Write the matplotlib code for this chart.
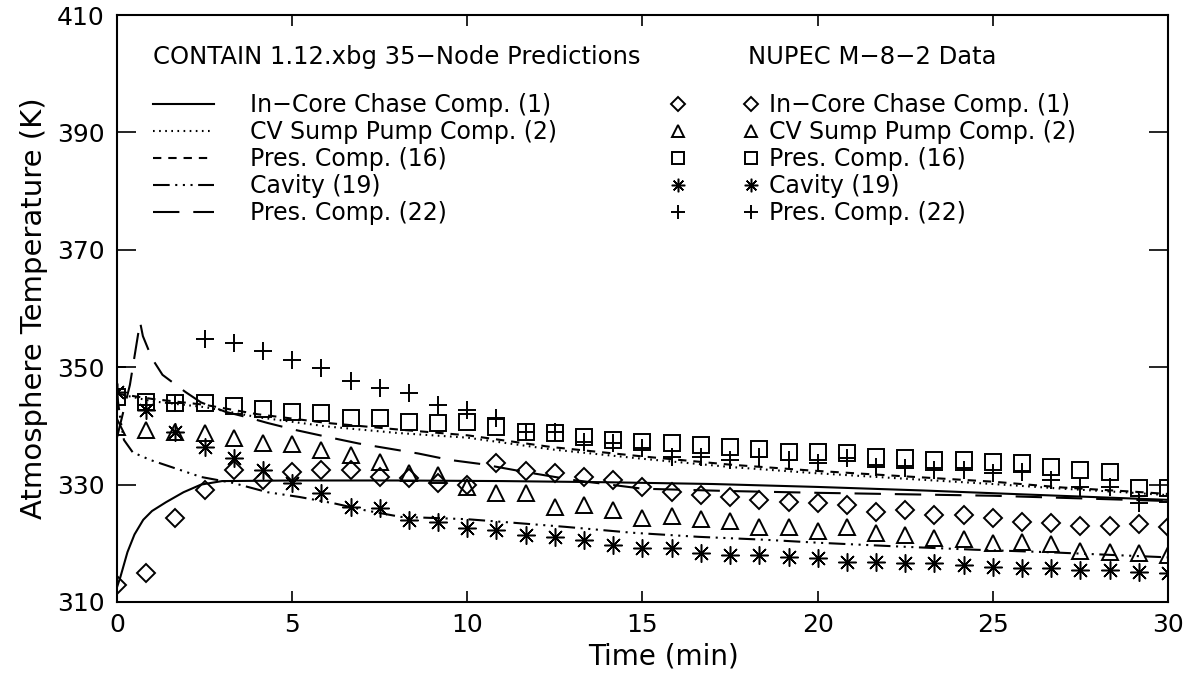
import matplotlib
matplotlib.use("Agg")
import matplotlib.pyplot as plt

plt.rcParams['font.family'] = ['DejaVu Sans']
plt.rcParams['lines.scale_dashes'] = False

# NUPEC M-8-2 data, sampled every 50 s
t_data = [0, 0.83, 1.67, 2.5, 3.33, 4.17, 5.0, 5.83, 6.67, 7.5, 8.33, 9.17, 10.0,
          10.83, 11.67, 12.5, 13.33, 14.17, 15.0, 15.83, 16.67, 17.5, 18.33, 19.17,
          20.0, 20.83, 21.67, 22.5, 23.33, 24.17, 25.0, 25.83, 26.67, 27.5, 28.33,
          29.17, 30.0]
d_incore = [312.9, 314.9, 324.3, 329.1, 332.5, 330.8, 332.1, 332.5, 332.5, 331.3,
            331.1, 330.3, 330.0, 333.7, 332.3, 332.0, 331.3, 330.8, 329.6, 328.7,
            328.2, 327.9, 327.4, 327.0, 326.9, 326.5, 325.3, 325.7, 324.8, 324.8,
            324.3, 323.6, 323.5, 323.0, 323.0, 323.3, 322.8]
d_sump = [339.8, 339.3, 339.0, 338.8, 337.9, 337.1, 336.9, 335.9, 335.0, 333.9,
          332.0, 331.6, 329.6, 328.6, 328.6, 326.2, 326.5, 325.7, 324.3, 324.7,
          324.1, 323.8, 322.8, 322.8, 322.1, 322.8, 321.8, 321.4, 320.9, 320.7,
          320.0, 320.2, 319.9, 318.7, 318.5, 318.3, 318.0]
d_pres16 = [345.0, 344.1, 343.9, 343.9, 343.4, 342.9, 342.4, 342.2, 341.3, 341.3,
            340.7, 340.5, 340.7, 339.8, 339.0, 338.8, 338.1, 337.6, 337.3, 337.1,
            336.7, 336.4, 336.0, 335.6, 335.6, 335.4, 334.7, 334.5, 334.2, 334.2,
            333.9, 333.7, 333.0, 332.5, 332.1, 329.4, 329.4]
d_cavity = [345.8, 342.7, 339.0, 336.4, 334.5, 332.5, 330.3, 328.6, 326.2, 326.0,
            324.0, 323.6, 322.6, 322.3, 321.4, 321.1, 320.6, 319.7, 319.2, 319.2,
            318.3, 318.0, 318.0, 317.7, 317.5, 316.8, 316.8, 316.6, 316.6, 316.3,
            316.0, 315.8, 315.8, 315.5, 315.5, 315.1, 314.9]
d_pres22 = [350.0, 343.5, 343.9, 354.8, 354.1, 352.8, 351.2, 349.8, 347.6, 346.4,
            345.6, 343.6, 342.7, 341.3, 339.0, 338.9, 337.3, 337.1, 336.2, 334.7,
            334.7, 334.2, 334.7, 334.2, 333.7, 334.5, 333.0, 332.8, 332.5, 332.5,
            332.0, 332.1, 330.8, 329.6, 329.6, 326.9, 327.0]

# CONTAIN 1.12.xbg predictions
t_p1 = [0, 0.1, 0.3, 0.5, 0.75, 1.0, 1.4, 1.9, 2.4, 3.0, 5, 8, 11, 14, 17, 20, 23, 26, 30]
p_incore = [312.5, 314.3, 318.5, 321.5, 324.0, 325.5, 327.0, 328.7, 330.0, 330.6,
            330.7, 330.7, 330.6, 330.4, 330.1, 329.6, 329.0, 328.3, 327.4]
t_p2 = [0, 1, 2.5, 4, 6, 8, 10, 12.4, 15, 17.5, 19.8, 22.5, 25, 27, 29, 30]
p_sump = [345.5, 344.2, 343.2, 341.5, 339.9, 338.8, 338.0, 336.0, 334.4, 333.0,
          332.0, 331.0, 330.1, 329.3, 328.6, 328.2]
p_pres16 = [345.5, 344.6, 343.6, 342.0, 340.5, 339.4, 338.4, 336.4, 334.8, 333.4,
            332.4, 331.4, 330.5, 329.5, 328.8, 328.4]
t_p19 = [0, 0.1, 0.2, 0.45, 0.95, 1.8, 2.4, 3.3, 4.3, 5.2, 6.2, 7.1, 8.1, 9.1, 10,
         11.1, 12.8, 14.7, 16.6, 18.5, 20, 22.5, 24.5, 26.5, 30]
p_cavity = [345.5, 341.0, 337.6, 335.5, 334.2, 332.5, 331.3, 330.3, 328.7, 327.9,
            326.8, 325.6, 324.5, 324.3, 324.1, 323.6, 322.8, 321.8, 321.1, 320.6,
            320.1, 319.4, 318.9, 318.5, 317.6]
t_p22 = [0, 0.37, 0.66, 0.74, 1.0, 1.3, 1.95, 2.4, 3.1, 3.7, 4.3, 5.1, 6.1, 6.9, 7.7,
         8.6, 9.5, 10.4, 11.6, 13, 15, 17.5, 20, 25, 30]
p_pres22 = [338.0, 347.0, 357.7, 355.3, 351.5, 348.7, 345.8, 344.0, 342.4, 341.5,
            340.5, 339.3, 338.0, 337.0, 336.2, 335.3, 334.2, 333.5, 332.2, 330.8,
            329.3, 328.9, 328.6, 328.1, 327.2]

labels = ['In\u2212Core Chase Comp. (1)', 'CV Sump Pump Comp. (2)',
          'Pres. Comp. (16)', 'Cavity (19)', 'Pres. Comp. (22)']

fs = 17
fig = plt.figure(figsize=(11.91, 6.85), dpi=100)
ax = fig.add_axes([0.0982, 0.1212, 0.8825, 0.8568])

lw = 1.5
l1, = ax.plot(t_p1, p_incore, color='k', lw=lw, ls='-')
l2, = ax.plot(t_p2, p_sump, color='k', lw=lw, ls=(0, (1.2, 3.2)))
l3, = ax.plot(t_p2, p_pres16, color='k', lw=lw, ls=(0, (6, 5)))
l4, = ax.plot(t_p19, p_cavity, color='k', lw=lw,
              ls=(0, (12, 4, 1.5, 4, 1.5, 4, 1.5, 4)))
l5, = ax.plot(t_p22, p_pres22, color='k', lw=lw, ls=(0, (19, 10)))

mk = dict(color='k', ls='none', mfc='none', mec='k', mew=1.4)
m1, = ax.plot(t_data, d_incore, marker='D', ms=9.2, **mk)
m2, = ax.plot(t_data, d_sump, marker='^', ms=11.5, **mk)
m3, = ax.plot(t_data, d_pres16, marker='s', ms=11.5, **mk)
m4, = ax.plot(t_data, d_cavity, marker=(8, 2, 0), ms=13, color='k', ls='none',
              mec='k', mew=1.1)
m5, = ax.plot(t_data, d_pres22, marker='+', ms=12.5, **mk)

ax.set_xlim(0, 30)
ax.set_ylim(310, 410)
ax.set_xticks([0, 5, 10, 15, 20, 25, 30])
ax.set_yticks([310, 330, 350, 370, 390, 410])
ax.tick_params(axis='x', direction='in', length=8, width=1.2, top=True,
               labelsize=18, pad=8)
ax.tick_params(axis='y', direction='in', length=14, width=1.2, right=True,
               labelsize=18, pad=9)
for s in ax.spines.values():
    s.set_linewidth(1.5)

ax.set_xlabel('Time (min)', fontsize=20, labelpad=4)
ax.xaxis.label.set_x(0.52)
ax.set_ylabel('Atmosphere Temperature (K)', fontsize=21, labelpad=6)

ax.text(0.0343, 0.928, 'CONTAIN 1.12.xbg 35\u2212Node Predictions', transform=ax.transAxes,
        fontsize=17.5, va='center', ha='left')
ax.text(0.600, 0.928, 'NUPEC M\u22128\u22122 Data', transform=ax.transAxes,
        fontsize=17.5, va='center', ha='left')

leg1 = ax.legend([l1, l2, l3, l4, l5], labels, loc='upper left',
                 bbox_to_anchor=(0.0343, 0.867), frameon=False, fontsize=fs,
                 handlelength=2.6, handletextpad=1.5, labelspacing=0.13,
                 borderpad=0, borderaxespad=0)
ax.add_artist(leg1)
ax.legend([m1, m2, m3, m4, m5], labels, loc='upper left',
          bbox_to_anchor=(0.527, 0.867), frameon=False, fontsize=fs,
          numpoints=2, markerscale=0.75, handlelength=3.7, handletextpad=0.45,
          labelspacing=0.13, borderpad=0, borderaxespad=0)

fig.savefig('out.png', dpi=100)
